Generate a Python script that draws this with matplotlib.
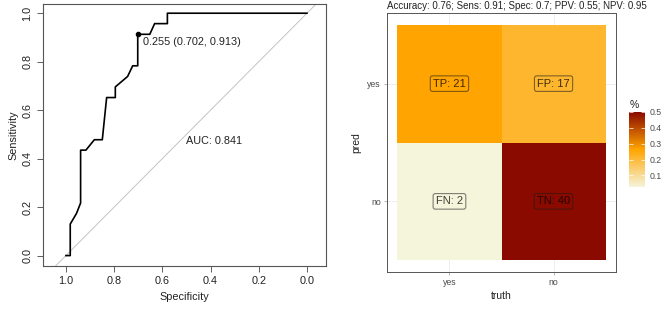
import numpy as np
import matplotlib
matplotlib.use("Agg")
import matplotlib.pyplot as plt
from matplotlib.colors import LinearSegmentedColormap, Normalize

plt.rcParams['font.family'] = ['Liberation Sans', 'DejaVu Sans']

### ROC curve (specificity, sensitivity)
spec = [1.0, 0.982, 0.982, 0.956, 0.939, 0.939, 0.917, 0.882, 0.849, 0.831, 0.795,
        0.795, 0.744, 0.723, 0.702, 0.702, 0.652, 0.632, 0.579, 0.579, 0.0]
sens = [0.0, 0.0, 0.130, 0.174, 0.217, 0.435, 0.435, 0.478, 0.478, 0.652, 0.652,
        0.696, 0.739, 0.783, 0.783, 0.913, 0.913, 0.957, 0.957, 1.0, 1.0]
best_thr = 0.255
best_spec, best_sens = 0.702, 0.913
auc = 0.841

### Confusion matrix
truth_lab = ["yes", "no"]
pred_lab = ["no", "yes"]           # bottom to top
counts = np.array([[2, 40],        # pred no
                   [21, 17]])      # pred yes
cell_names = [["FN", "TN"],
              ["TP", "FP"]]
title_txt = "Accuracy: 0.76; Sens: 0.91; Spec: 0.7; PPV: 0.55; NPV: 0.95"
cbar_ticks = [0.1, 0.2, 0.3, 0.4, 0.5]

fig = plt.figure(figsize=(6.61, 3.12), dpi=100)

####### Left: ROC
fs = 7.8
ax = fig.add_axes([43/661, 46/312, 283/661, 262/312])
ax.plot([1.2, -0.2], [-0.2, 1.2], color="#c4c4c4", lw=0.7, zorder=1)
ax.plot(spec, sens, color="black", lw=1.2, zorder=2)
ax.scatter([best_spec], [best_sens], s=9, color="black", zorder=3)
ax.annotate(f"{best_thr} ({best_spec}, {best_sens})", xy=(best_spec, best_sens),
            xytext=(3.9, -5.5), textcoords="offset points", ha="left", va="center",
            fontsize=fs, color="#222222")
ax.text(0.5, 0.495, f"AUC: {auc}", ha="left", va="top", fontsize=fs, color="#222222")
ax.set_xlim(1.095, -0.079)
ax.set_ylim(-0.043, 1.038)
ax.set_xticks([1.0, 0.8, 0.6, 0.4, 0.2, 0.0])
ax.set_yticks([0.0, 0.2, 0.4, 0.6, 0.8, 1.0])
ax.set_xticklabels(["1.0", "0.8", "0.6", "0.4", "0.2", "0.0"])
ax.set_yticklabels(["0.0", "0.2", "0.4", "0.6", "0.8", "1.0"], rotation=90, va="center")
ax.tick_params(axis="both", labelsize=fs, length=4.5, width=0.6, color="#444444",
               labelcolor="#222222", pad=3)
for s in ax.spines.values():
    s.set_color("#555555")
    s.set_linewidth(0.8)
ax.set_xlabel("Specificity", fontsize=fs, color="#222222", labelpad=4)
ax.set_ylabel("Sensitivity", fontsize=fs, color="#222222", labelpad=3)

####### Right: confusion matrix
vals = counts / counts.sum()
cmap = LinearSegmentedColormap.from_list("cm", ["#F5F5DC", "#FFA500", "#8B0A00"])
norm = Normalize(vmin=vals.min(), vmax=vals.max())

ax1 = fig.add_axes([387/661, 40/312, 229/661, 259/312])
for p in [1, 2]:
    ax1.axvline(p, color="#ebebeb", lw=0.6, zorder=0)
    ax1.axhline(p, color="#ebebeb", lw=0.6, zorder=0)
mesh = ax1.pcolormesh([0.5, 1.5, 2.5], [0.5, 1.5, 2.5], vals, cmap=cmap, norm=norm, zorder=1)
for i in range(2):
    for j in range(2):
        ax1.text(j + 1, i + 1, f"{cell_names[i][j]}: {counts[i, j]}", ha="center", va="center",
                 fontsize=8, color=(0, 0, 0, 0.75), zorder=3,
                 bbox=dict(boxstyle="round,pad=0.25,rounding_size=0.2", fc="none",
                           ec=(0.1, 0.1, 0.1, 0.55), lw=0.8))
ax1.set_xlim(0.4, 2.6)
ax1.set_ylim(0.4, 2.6)
ax1.set_xticks([1, 2])
ax1.set_xticklabels(truth_lab)
ax1.set_yticks([1, 2])
ax1.set_yticklabels(pred_lab)
ax1.tick_params(axis="both", labelsize=6.3, length=2.5, width=0.5, color="#999999",
                labelcolor="#4d4d4d", pad=2)
for s in ax1.spines.values():
    s.set_color("#555555")
    s.set_linewidth(0.7)
ax1.set_xlabel("truth", fontsize=7.5, color="#222222", labelpad=3)
ax1.set_ylabel("pred", fontsize=7.5, color="#222222", labelpad=4)
ax1.set_title(title_txt, fontsize=7, color="#222222", pad=3, loc="left")

cax = fig.add_axes([629.3/661, 124.7/312, 15.7/661, 75.3/312])
cb = fig.colorbar(mesh, cax=cax, ticks=cbar_ticks)
cb.outline.set_visible(False)
cax.tick_params(axis="y", direction="in", color="white", length=3, width=0.5,
                left=True, right=True, labelsize=6.3, labelcolor="#4d4d4d", pad=3)
cax.set_title("%", fontsize=7.5, color="#222222", loc="left", pad=3)

fig.savefig("out.png", dpi=100)
